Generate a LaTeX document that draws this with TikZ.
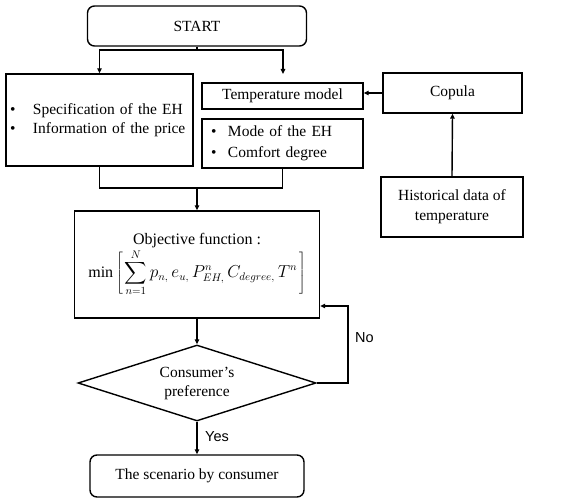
\documentclass[tikz,border=0pt]{standalone}
\usepackage{fontspec}
\usepackage{graphicx}
\setmainfont{Liberation Serif}
\newfontfamily\sansf{Liberation Sans}
\usetikzlibrary{shapes.geometric,arrows.meta}
\newcommand{\bigsum}{\mathop{\vcenter{\hbox{\scalebox{1.55}{$\displaystyle\sum$}}}}\limits}
\begin{document}
\begin{tikzpicture}[x=1pt,y=-1pt,
  every node/.style={font=\fontsize{15.5}{18}\selectfont},
  box/.style={draw,line width=1.4pt,inner sep=0pt},
  rbox/.style={box,rounded corners=7pt},
  conn/.style={line width=1.4pt},
  arr/.style={conn,-{Triangle[length=5pt,width=4.5pt]}},
  lbl/.style={font=\sansf\fontsize{14.5}{16}\selectfont,anchor=west,inner sep=0pt},
]
\useasboundingbox (0,0) rectangle (587,500);

\node[rbox,minimum width=219pt,minimum height=40pt] (start) at (197,26) {START};
\node[box,minimum width=187pt,minimum height=92pt,align=left,text width=179pt,inner xsep=4pt,
  font=\fontsize{15.5}{19}\selectfont] (spec) at (99.5,120)
  {\makebox[23pt][l]{\textbullet}Specification of the EH\\\makebox[23pt][l]{\textbullet}Information of the price};
\node[box,minimum width=161pt,minimum height=26pt] (temp) at (282.5,96) {Temperature model};
\node[box,minimum width=161pt,minimum height=49pt,align=left,text width=143pt,inner xsep=9pt,
  font=\fontsize{15.5}{21}\selectfont] (mode) at (282.5,143.5)
  {\makebox[17pt][l]{\textbullet}Mode of the EH\\\makebox[17pt][l]{\textbullet}Comfort degree};
\node[box,minimum width=139pt,minimum height=40pt] (cop) at (452.5,93) {Copula};
\node[box,minimum width=142pt,minimum height=60pt,align=center,font=\fontsize{15.5}{20}\selectfont]
  (hist) at (452,207) {Historical data of\\temperature};
\node[box,minimum width=245pt,minimum height=107pt,align=center,font=\fontsize{16}{19}\selectfont] (obj) at (197,264.5)
  {Objective function :\\[1pt]
   $\displaystyle \min\left[\mkern2mu\bigsum_{n=1}^{N} p_{n,}\, e_{u,}\, P^{n}_{EH,}\, C_{degree,}\, T^{n}\mkern2mu\right]$};
\node[draw,diamond,shape aspect=3.13,line width=1.4pt,minimum width=238pt,minimum height=76pt,
  inner sep=0pt,align=center,font=\fontsize{15.5}{19}\selectfont] (dec) at (197,383)
  {Consumer’s\\preference};
\node[rbox,minimum width=214pt,minimum height=42pt] (scen) at (197,476) {The scenario by consumer};

\coordinate (split) at (197,50);
\coordinate (tempin) at (283,74);
\coordinate (merge) at (197,188);
\coordinate (loop) at (348,383);
\coordinate (looptop) at (348,306);

\draw[conn] (start.south) -- (split);
\draw[arr] (split) -| (spec.north);
\draw[arr] (split) -| (tempin);
\draw[conn] (spec.south) |- (merge);
\draw[conn] (mode.south) |- (merge);
\draw[arr] (merge) -- (obj.north);
\draw[arr] (cop.west) -- (cop.west -| temp.east);
\draw[arr] (hist.north) -- (cop.south);
\draw[arr] (obj.south) -- (dec.north);
\draw[arr] (dec.east) -- (loop) -- (looptop) -- (obj.east |- looptop);
\draw[arr] (dec.south) -- (scen.north);

\node[lbl] (no) at (355,338) {No};
\node[lbl] (yes) at (205,437) {Yes};
\end{tikzpicture}
\end{document}
